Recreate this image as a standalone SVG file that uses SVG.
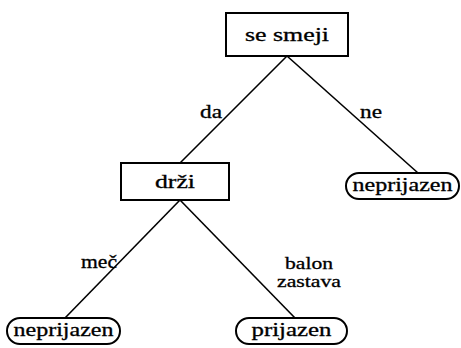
<svg xmlns="http://www.w3.org/2000/svg" width="461" height="348" viewBox="0 0 461 348" font-family="Liberation Serif, DejaVu Serif, serif">
<style>
.box{fill:#fff;stroke:#000;stroke-width:2}
.e{stroke:#000;stroke-width:1.6;fill:none}
.t{font-size:18px;fill:#000;text-anchor:middle;stroke:#000;stroke-width:0.3}
.s{font-size:17px}
</style>
<rect width="461" height="348" fill="#fff"/>
<g id="connectors">
<line class="e" x1="287" y1="56" x2="180" y2="163"/>
<line class="e" x1="287" y1="56" x2="418" y2="173"/>
<line class="e" x1="180" y1="200" x2="65" y2="318"/>
<line class="e" x1="180" y1="200" x2="295" y2="318"/>
<text class="t" x="211" y="118" textLength="22" lengthAdjust="spacingAndGlyphs">da</text>
<text class="t" x="371" y="118" textLength="22" lengthAdjust="spacingAndGlyphs">ne</text>
<text class="t" x="99" y="268" textLength="36" lengthAdjust="spacingAndGlyphs">meč</text>
<text class="t s" x="309" y="269" textLength="48" lengthAdjust="spacingAndGlyphs">balon</text>
<text class="t s" x="309" y="287" textLength="64" lengthAdjust="spacingAndGlyphs">zastava</text>
</g>
<g id="n_se_smeji">
<rect class="box" x="226" y="13" width="122" height="43"/>
<text class="t" x="287" y="41" textLength="84" lengthAdjust="spacingAndGlyphs">se smeji</text>
</g>
<g id="n_drzi">
<rect class="box" x="121" y="163" width="108" height="37"/>
<text class="t" x="175" y="188" textLength="40" lengthAdjust="spacingAndGlyphs">drži</text>
</g>
<g id="n_neprijazen_r">
<rect class="box" x="346" y="173" width="113" height="26" rx="13"/>
<text class="t" x="402.5" y="191" textLength="100" lengthAdjust="spacingAndGlyphs">neprijazen</text>
</g>
<g id="n_neprijazen_l">
<rect class="box" x="7" y="318" width="113" height="26" rx="13"/>
<text class="t" x="63.5" y="336" textLength="100" lengthAdjust="spacingAndGlyphs">neprijazen</text>
</g>
<g id="n_prijazen">
<rect class="box" x="236" y="318" width="111" height="26" rx="13"/>
<text class="t" x="291.5" y="336" textLength="80" lengthAdjust="spacingAndGlyphs">prijazen</text>
</g>
</svg>
